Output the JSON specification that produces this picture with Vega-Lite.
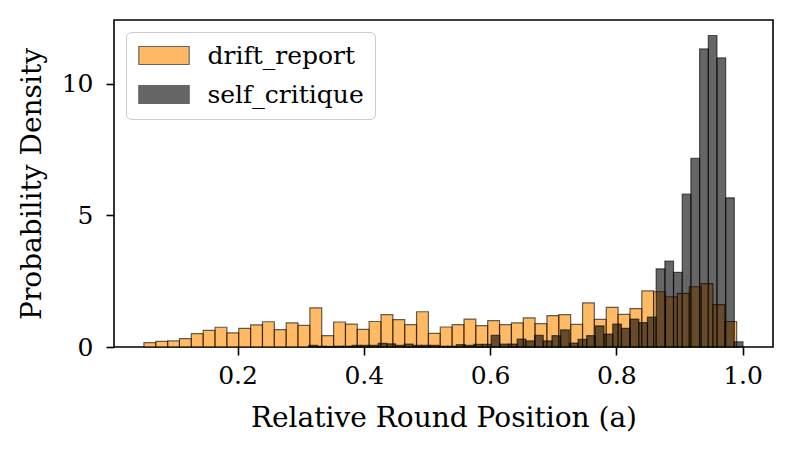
{
  "$schema": "https://vega.github.io/schema/vega-lite/v6.json",
  "autosize": "none",
  "padding": {"left": 114, "top": 20, "right": 21, "bottom": 106},
  "width": 659,
  "height": 327,
  "background": "white",
  "config": {
    "view": {"stroke": "black", "strokeWidth": 1.6},
    "axis": {
      "domain": false,
      "grid": false,
      "ticks": true,
      "tickColor": "black",
      "tickWidth": 1.6,
      "tickSize": 8,
      "labelFont": "DejaVu Serif",
      "labelFontSize": 25,
      "labelColor": "black",
      "titleFont": "DejaVu Serif",
      "titleFontSize": 28,
      "titleFontWeight": "normal",
      "titleColor": "black"
    },
    "legend": {
      "labelFont": "DejaVu Serif",
      "labelFontSize": 25,
      "labelColor": "black"
    }
  },
  "data": {
    "values": [
      {"series": "drift_report", "x0": 0.0517, "x1": 0.0705, "density": 0.165},
      {"series": "drift_report", "x0": 0.0705, "x1": 0.0893, "density": 0.215},
      {"series": "drift_report", "x0": 0.0893, "x1": 0.1080, "density": 0.23},
      {"series": "drift_report", "x0": 0.1080, "x1": 0.1268, "density": 0.32},
      {"series": "drift_report", "x0": 0.1268, "x1": 0.1456, "density": 0.51},
      {"series": "drift_report", "x0": 0.1456, "x1": 0.1644, "density": 0.63},
      {"series": "drift_report", "x0": 0.1644, "x1": 0.1832, "density": 0.75},
      {"series": "drift_report", "x0": 0.1832, "x1": 0.2019, "density": 0.54},
      {"series": "drift_report", "x0": 0.2019, "x1": 0.2207, "density": 0.71},
      {"series": "drift_report", "x0": 0.2207, "x1": 0.2395, "density": 0.84},
      {"series": "drift_report", "x0": 0.2395, "x1": 0.2583, "density": 0.96},
      {"series": "drift_report", "x0": 0.2583, "x1": 0.2771, "density": 0.66},
      {"series": "drift_report", "x0": 0.2771, "x1": 0.2958, "density": 0.92},
      {"series": "drift_report", "x0": 0.2958, "x1": 0.3146, "density": 0.82},
      {"series": "drift_report", "x0": 0.3146, "x1": 0.3334, "density": 1.49},
      {"series": "drift_report", "x0": 0.3334, "x1": 0.3522, "density": 0.43},
      {"series": "drift_report", "x0": 0.3522, "x1": 0.3710, "density": 0.95},
      {"series": "drift_report", "x0": 0.3710, "x1": 0.3897, "density": 0.87},
      {"series": "drift_report", "x0": 0.3897, "x1": 0.4085, "density": 0.67},
      {"series": "drift_report", "x0": 0.4085, "x1": 0.4273, "density": 0.97},
      {"series": "drift_report", "x0": 0.4273, "x1": 0.4461, "density": 1.23},
      {"series": "drift_report", "x0": 0.4461, "x1": 0.4649, "density": 1.04},
      {"series": "drift_report", "x0": 0.4649, "x1": 0.4836, "density": 0.85},
      {"series": "drift_report", "x0": 0.4836, "x1": 0.5024, "density": 1.34},
      {"series": "drift_report", "x0": 0.5024, "x1": 0.5212, "density": 0.52},
      {"series": "drift_report", "x0": 0.5212, "x1": 0.5400, "density": 0.76},
      {"series": "drift_report", "x0": 0.5400, "x1": 0.5588, "density": 0.85},
      {"series": "drift_report", "x0": 0.5588, "x1": 0.5775, "density": 1.06},
      {"series": "drift_report", "x0": 0.5775, "x1": 0.5963, "density": 0.81},
      {"series": "drift_report", "x0": 0.5963, "x1": 0.6151, "density": 1.0},
      {"series": "drift_report", "x0": 0.6151, "x1": 0.6339, "density": 0.85},
      {"series": "drift_report", "x0": 0.6339, "x1": 0.6527, "density": 0.92},
      {"series": "drift_report", "x0": 0.6527, "x1": 0.6714, "density": 1.11},
      {"series": "drift_report", "x0": 0.6714, "x1": 0.6902, "density": 0.89},
      {"series": "drift_report", "x0": 0.6902, "x1": 0.7090, "density": 1.19},
      {"series": "drift_report", "x0": 0.7090, "x1": 0.7278, "density": 1.23},
      {"series": "drift_report", "x0": 0.7278, "x1": 0.7466, "density": 0.86},
      {"series": "drift_report", "x0": 0.7466, "x1": 0.7653, "density": 1.68},
      {"series": "drift_report", "x0": 0.7653, "x1": 0.7841, "density": 1.05},
      {"series": "drift_report", "x0": 0.7841, "x1": 0.8029, "density": 1.51},
      {"series": "drift_report", "x0": 0.8029, "x1": 0.8217, "density": 1.24},
      {"series": "drift_report", "x0": 0.8217, "x1": 0.8405, "density": 1.46},
      {"series": "drift_report", "x0": 0.8405, "x1": 0.8592, "density": 2.13},
      {"series": "drift_report", "x0": 0.8592, "x1": 0.8780, "density": 2.10},
      {"series": "drift_report", "x0": 0.8780, "x1": 0.8968, "density": 1.91},
      {"series": "drift_report", "x0": 0.8968, "x1": 0.9156, "density": 2.04},
      {"series": "drift_report", "x0": 0.9156, "x1": 0.9344, "density": 2.29},
      {"series": "drift_report", "x0": 0.9344, "x1": 0.9531, "density": 2.41},
      {"series": "drift_report", "x0": 0.9531, "x1": 0.9719, "density": 1.61},
      {"series": "drift_report", "x0": 0.9719, "x1": 0.9907, "density": 0.97},
      {"series": "self_critique", "x0": 0.3128, "x1": 0.3266, "density": 0.06},
      {"series": "self_critique", "x0": 0.3266, "x1": 0.3403, "density": 0.03},
      {"series": "self_critique", "x0": 0.3403, "x1": 0.3541, "density": 0.02},
      {"series": "self_critique", "x0": 0.3541, "x1": 0.3678, "density": 0.03},
      {"series": "self_critique", "x0": 0.3678, "x1": 0.3816, "density": 0.03},
      {"series": "self_critique", "x0": 0.3816, "x1": 0.3954, "density": 0.06},
      {"series": "self_critique", "x0": 0.3954, "x1": 0.4091, "density": 0.06},
      {"series": "self_critique", "x0": 0.4091, "x1": 0.4229, "density": 0.06},
      {"series": "self_critique", "x0": 0.4229, "x1": 0.4366, "density": 0.14},
      {"series": "self_critique", "x0": 0.4366, "x1": 0.4504, "density": 0.12},
      {"series": "self_critique", "x0": 0.4504, "x1": 0.4642, "density": 0.06},
      {"series": "self_critique", "x0": 0.4642, "x1": 0.4779, "density": 0.11},
      {"series": "self_critique", "x0": 0.4779, "x1": 0.4917, "density": 0.06},
      {"series": "self_critique", "x0": 0.4917, "x1": 0.5054, "density": 0.06},
      {"series": "self_critique", "x0": 0.5054, "x1": 0.5192, "density": 0.06},
      {"series": "self_critique", "x0": 0.5192, "x1": 0.5330, "density": 0.03},
      {"series": "self_critique", "x0": 0.5330, "x1": 0.5467, "density": 0.03},
      {"series": "self_critique", "x0": 0.5467, "x1": 0.5605, "density": 0.09},
      {"series": "self_critique", "x0": 0.5605, "x1": 0.5742, "density": 0.06},
      {"series": "self_critique", "x0": 0.5742, "x1": 0.5880, "density": 0.10},
      {"series": "self_critique", "x0": 0.5880, "x1": 0.6018, "density": 0.10},
      {"series": "self_critique", "x0": 0.6018, "x1": 0.6155, "density": 0.44},
      {"series": "self_critique", "x0": 0.6155, "x1": 0.6293, "density": 0.11},
      {"series": "self_critique", "x0": 0.6293, "x1": 0.6430, "density": 0.11},
      {"series": "self_critique", "x0": 0.6430, "x1": 0.6568, "density": 0.30},
      {"series": "self_critique", "x0": 0.6568, "x1": 0.6706, "density": 0.23},
      {"series": "self_critique", "x0": 0.6706, "x1": 0.6843, "density": 0.44},
      {"series": "self_critique", "x0": 0.6843, "x1": 0.6981, "density": 0.23},
      {"series": "self_critique", "x0": 0.6981, "x1": 0.7118, "density": 0.43},
      {"series": "self_critique", "x0": 0.7118, "x1": 0.7256, "density": 0.65},
      {"series": "self_critique", "x0": 0.7256, "x1": 0.7394, "density": 0.15},
      {"series": "self_critique", "x0": 0.7394, "x1": 0.7531, "density": 0.29},
      {"series": "self_critique", "x0": 0.7531, "x1": 0.7669, "density": 0.43},
      {"series": "self_critique", "x0": 0.7669, "x1": 0.7806, "density": 0.80},
      {"series": "self_critique", "x0": 0.7806, "x1": 0.7944, "density": 0.49},
      {"series": "self_critique", "x0": 0.7944, "x1": 0.8082, "density": 0.87},
      {"series": "self_critique", "x0": 0.8082, "x1": 0.8219, "density": 0.71},
      {"series": "self_critique", "x0": 0.8219, "x1": 0.8357, "density": 1.06},
      {"series": "self_critique", "x0": 0.8357, "x1": 0.8494, "density": 0.93},
      {"series": "self_critique", "x0": 0.8494, "x1": 0.8632, "density": 1.14},
      {"series": "self_critique", "x0": 0.8632, "x1": 0.8770, "density": 2.97},
      {"series": "self_critique", "x0": 0.8770, "x1": 0.8907, "density": 3.27},
      {"series": "self_critique", "x0": 0.8907, "x1": 0.9045, "density": 2.84},
      {"series": "self_critique", "x0": 0.9045, "x1": 0.9182, "density": 5.81},
      {"series": "self_critique", "x0": 0.9182, "x1": 0.9320, "density": 7.17},
      {"series": "self_critique", "x0": 0.9320, "x1": 0.9458, "density": 11.33},
      {"series": "self_critique", "x0": 0.9458, "x1": 0.9595, "density": 11.84},
      {"series": "self_critique", "x0": 0.9595, "x1": 0.9733, "density": 10.99},
      {"series": "self_critique", "x0": 0.9733, "x1": 0.9870, "density": 5.67},
      {"series": "self_critique", "x0": 0.9870, "x1": 1.0008, "density": 0.20}
    ]
  },
  "mark": {
    "type": "bar",
    "fillOpacity": 0.6,
    "stroke": "black",
    "strokeOpacity": 0.6,
    "strokeWidth": 1.2
  },
  "encoding": {
    "x": {
      "field": "x0",
      "type": "quantitative",
      "scale": {"domain": [0.0043, 1.0483], "nice": false, "zero": false},
      "axis": {
        "title": "Relative Round Position (a)",
        "values": [0.2, 0.4, 0.6, 0.8, 1.0],
        "format": ".1f",
        "labelPadding": 8,
        "titlePadding": 16,
        "labelFlush": false
      }
    },
    "x2": {"field": "x1"},
    "y": {
      "field": "density",
      "type": "quantitative",
      "scale": {"domain": [0, 12.43], "nice": false},
      "axis": {
        "title": "Probability Density",
        "values": [0, 5, 10],
        "format": "d",
        "labelPadding": 13,
        "titlePadding": 15
      }
    },
    "y2": {"datum": 0},
    "color": {
      "field": "series",
      "type": "nominal",
      "scale": {"domain": ["drift_report", "self_critique"], "range": ["darkorange", "black"]},
      "legend": {
        "title": null,
        "orient": "none",
        "legendX": 12,
        "legendY": 12,
        "padding": 11,
        "fillColor": "rgba(255,255,255,0.8)",
        "strokeColor": "#cccccc",
        "cornerRadius": 5,
        "symbolType": "M-2.8,-1H2.8V1H-2.8Z",
        "symbolSize": 324,
        "symbolOffset": 14.5,
        "symbolOpacity": 0.6,
        "symbolStrokeColor": "black",
        "symbolStrokeWidth": 1.2,
        "labelOffset": 31,
        "rowPadding": 13
      }
    },
    "order": {"field": "series", "sort": "ascending"}
  }
}
